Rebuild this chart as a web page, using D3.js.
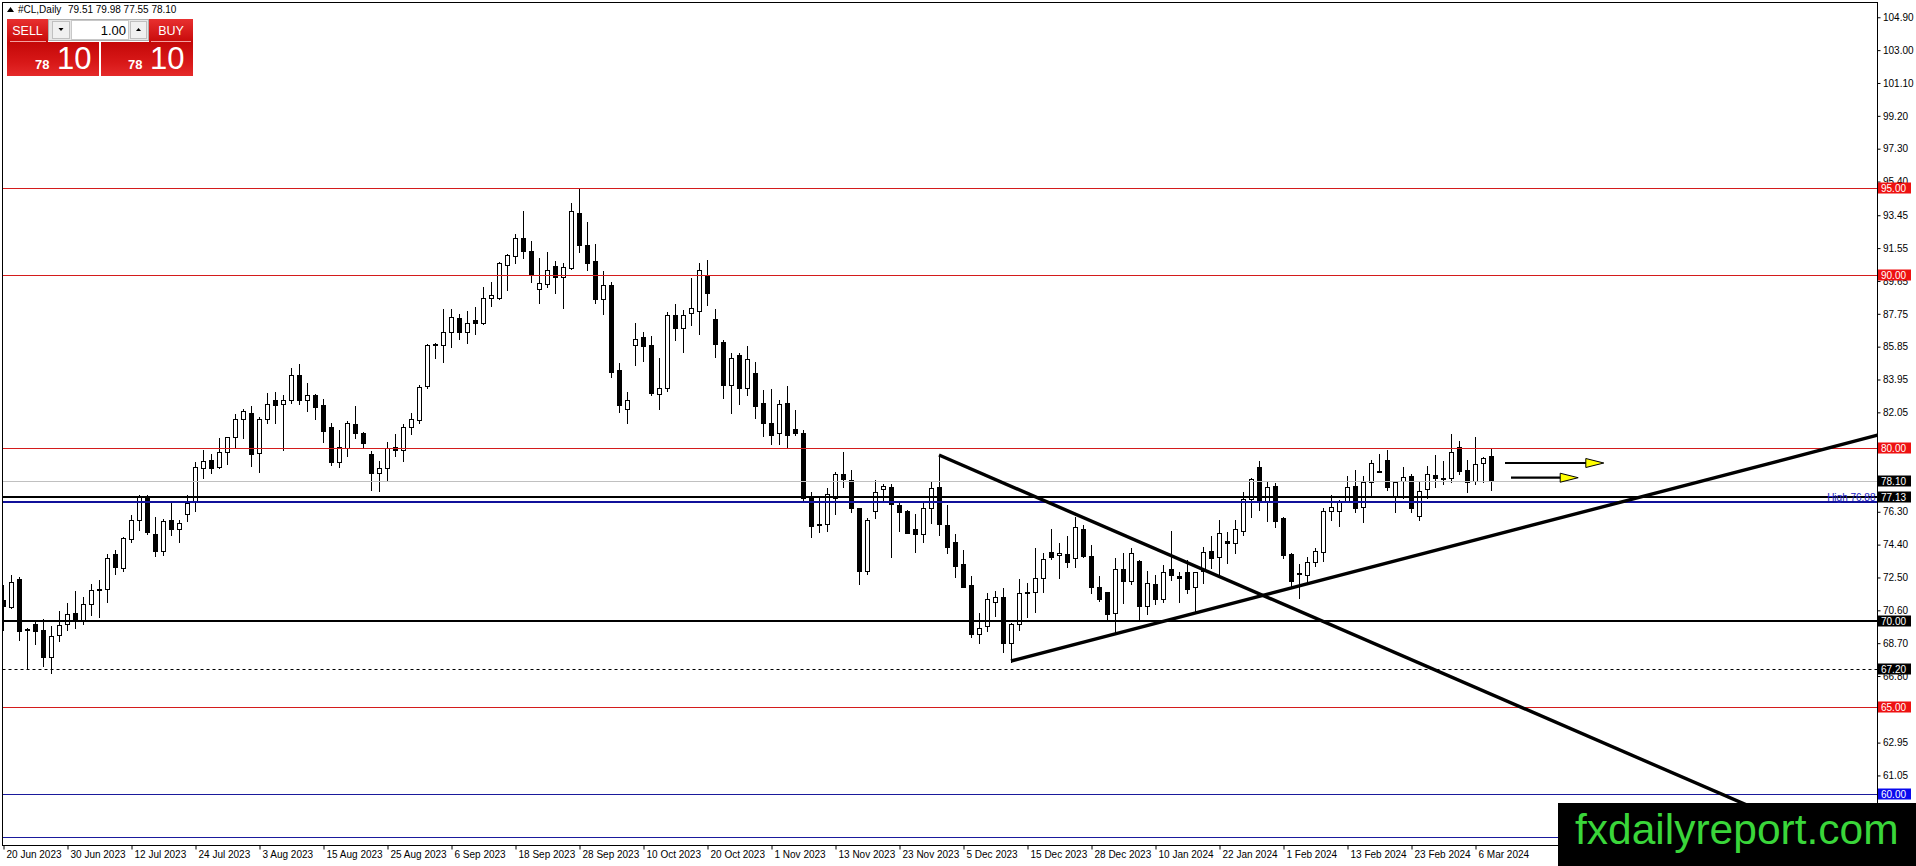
<!DOCTYPE html>
<html><head><meta charset="utf-8">
<script src="https://cdn.jsdelivr.net/npm/d3@7/dist/d3.min.js"></script>
<style>
html,body{margin:0;padding:0;background:#fff;overflow:hidden;}
svg{display:block;font-family:"Liberation Sans",Arial,sans-serif;}
</style></head><body>
<svg id="chart" width="1916" height="866"></svg>
<script>
// ---------------- DATA ----------------
const symbolTitle = "#CL,Daily";
const headerValues = "79.51 79.98 77.55 78.10";

const opens = [71.20,70.81,72.39,69.50,69.79,69.46,67.92,69.19,69.79,70.43,70.04,70.95,71.80,71.81,73.84,73.03,74.72,75.80,77.13,75.01,
74.05,75.80,75.28,76.17,76.92,78.81,79.27,78.87,79.73,80.60,81.68,81.99,79.71,81.68,82.79,82.51,82.79,84.20,82.79,83.05,
82.47,81.20,79.19,80.00,81.35,80.83,79.62,78.52,78.81,80.06,79.90,81.22,81.60,83.59,86.03,85.94,86.67,87.48,86.71,87.38,
87.19,88.69,88.69,90.58,91.12,92.16,91.37,89.21,89.50,90.54,89.85,90.42,93.60,91.72,90.79,88.63,89.40,84.49,82.22,85.94,
86.42,85.94,83.14,83.47,87.67,86.94,87.77,87.92,90.02,87.44,86.13,83.62,85.36,83.47,84.30,82.62,81.41,80.87,82.57,81.08,
80.83,77.07,75.60,75.57,77.11,78.46,78.13,76.50,72.87,76.34,77.59,77.71,76.69,76.34,75.28,74.99,76.50,77.71,75.53,74.53,
73.28,72.06,69.21,69.71,71.10,71.35,68.69,69.79,71.58,71.64,72.45,73.99,73.78,73.84,73.60,75.28,73.74,71.97,71.66,70.46,
72.97,72.31,73.45,70.85,72.12,71.27,72.97,72.58,72.80,71.93,72.89,74.03,73.66,74.60,74.47,75.19,77.03,78.90,76.92,77.79,
75.92,73.84,72.78,72.64,73.41,73.99,76.34,76.36,76.92,77.79,76.55,78.04,78.66,79.29,77.13,78.08,78.36,76.05,77.60,78.42,
78.27,78.23,80.06,78.71,78.10,79.10,79.51];
const highs = [72.06,72.64,72.54,69.56,70.04,70.08,69.69,70.56,71.00,71.72,71.39,72.10,72.35,73.85,74.09,74.86,76.11,77.27,77.27,76.00,
75.90,76.84,75.82,77.27,79.17,79.87,79.67,80.54,80.64,81.95,82.22,82.41,81.80,83.18,83.24,83.05,84.63,84.84,83.76,83.14,
82.85,81.41,81.02,81.56,82.41,80.89,79.83,79.25,80.35,80.77,81.35,81.99,83.62,86.03,86.09,88.02,88.02,87.71,87.90,88.13,
89.31,89.58,90.75,91.20,92.39,93.70,91.95,90.95,91.33,90.81,90.66,94.16,95.05,93.07,91.81,90.23,89.60,84.88,83.24,87.19,
86.71,86.48,85.20,87.83,88.29,87.96,89.83,90.66,90.85,88.02,86.23,85.51,85.51,85.90,84.97,83.34,83.39,82.76,83.57,82.18,
81.02,77.46,77.07,77.65,78.58,79.77,78.71,76.54,75.92,78.13,77.88,77.88,76.78,76.40,76.17,76.94,78.10,79.58,76.69,75.01,
74.09,72.58,70.43,71.58,71.74,71.87,69.85,72.39,72.16,74.22,73.93,75.28,74.47,74.92,76.01,75.53,74.37,72.58,71.68,73.60,
73.93,74.18,73.51,72.87,72.64,73.22,75.20,72.83,73.51,72.83,74.28,74.90,75.82,75.15,75.82,77.46,78.23,79.23,78.00,77.94,
76.01,73.93,73.26,73.70,74.22,76.49,77.27,76.98,78.38,78.71,78.38,79.29,79.67,79.87,78.08,78.90,78.46,78.00,78.94,79.58,
79.23,80.77,80.39,79.29,80.60,79.44,79.98];
const lows = [69.46,70.75,68.88,67.28,68.63,67.40,67.00,68.83,69.46,69.60,69.81,70.31,70.20,71.10,72.68,72.89,74.57,75.24,74.99,73.74,
73.80,74.95,74.53,75.78,76.36,78.23,78.52,78.85,79.04,80.06,80.54,78.96,78.61,81.45,81.45,79.87,82.60,82.52,82.14,81.66,
80.35,79.00,78.90,79.52,80.54,80.06,77.56,77.52,78.10,79.52,79.25,80.79,81.41,83.43,85.20,84.97,85.84,86.28,86.07,86.61,
87.15,88.19,88.60,89.12,90.70,90.98,89.60,88.35,89.31,88.96,88.10,90.37,91.33,90.31,88.38,87.71,84.11,82.08,81.45,84.78,
85.01,83.05,82.24,83.28,86.23,85.55,87.09,86.57,88.25,85.26,82.89,82.04,82.51,83.05,81.74,80.70,80.21,80.21,80.06,80.73,
76.98,74.86,75.15,75.19,76.15,77.75,76.30,72.10,72.68,75.96,76.88,73.70,75.18,75.09,73.99,74.57,75.63,74.95,73.90,72.55,
71.95,69.04,68.73,69.40,70.27,68.21,67.63,69.46,70.23,70.52,71.68,73.55,72.45,73.09,73.09,73.70,71.62,71.16,70.04,69.31,
71.00,72.12,70.04,70.39,70.97,71.10,72.35,71.10,71.58,70.43,72.16,73.07,72.64,73.32,73.89,74.95,76.01,76.40,75.76,75.44,
73.64,71.97,71.33,72.29,73.18,73.45,75.82,75.49,76.84,76.26,75.70,77.17,78.61,77.56,76.26,77.11,76.30,75.82,77.11,77.75,
77.88,78.00,78.46,77.46,77.88,78.00,77.55];
const closes = [70.87,72.25,69.42,69.45,69.42,67.92,69.12,69.73,70.37,69.98,70.95,71.75,71.85,73.60,73.12,74.76,75.80,77.13,75.13,74.05,
75.76,75.32,75.63,76.82,78.87,79.25,78.85,79.73,80.60,81.68,82.12,79.66,81.64,82.56,82.45,82.79,84.20,82.79,83.03,82.37,
80.98,79.19,80.02,81.41,80.83,80.25,78.52,78.81,79.96,79.90,81.22,81.64,83.53,85.97,85.92,86.67,87.54,86.71,87.19,87.23,
88.69,88.81,90.66,91.16,92.16,91.39,90.08,89.56,90.31,89.85,90.46,93.68,91.72,90.70,88.58,89.39,84.40,82.47,82.76,86.32,
85.90,83.18,83.43,87.67,86.94,87.67,88.11,90.27,88.96,86.03,83.62,85.22,83.47,85.11,82.43,81.41,80.73,82.51,80.73,80.83,
77.11,75.49,75.55,77.30,78.46,78.17,76.50,72.87,75.82,77.46,77.79,76.73,76.30,75.10,74.99,76.50,77.65,75.57,74.28,73.18,
71.97,69.21,69.56,71.23,71.35,68.69,69.79,71.58,71.68,72.45,73.55,73.70,73.90,73.41,75.40,73.74,71.97,71.27,70.41,72.97,
72.31,73.89,70.87,72.16,71.23,72.80,72.64,72.45,71.85,72.80,73.95,73.60,75.05,74.50,75.28,77.03,78.19,76.92,77.75,75.76,
73.80,72.31,72.68,73.37,74.03,76.36,76.55,76.88,77.75,76.50,78.00,79.10,78.62,77.75,78.00,78.29,76.50,77.52,78.46,78.23,
78.19,79.73,78.67,78.04,79.04,79.40,78.10];

// time-axis labels (every 8th bar)
const dateLabelIdx = [0,8,16,24,32,40,48,56,64,72,80,88,96,104,112,120,128,136,144,152,160,168,176,184];
const dateLabels = ["20 Jun 2023","30 Jun 2023","12 Jul 2023","24 Jul 2023","3 Aug 2023","15 Aug 2023","25 Aug 2023",
"6 Sep 2023","18 Sep 2023","28 Sep 2023","10 Oct 2023","20 Oct 2023","1 Nov 2023","13 Nov 2023","23 Nov 2023",
"5 Dec 2023","15 Dec 2023","28 Dec 2023","10 Jan 2024","22 Jan 2024","1 Feb 2024","13 Feb 2024","23 Feb 2024","6 Mar 2024"];

// price-axis tick labels (those visible in the reference)
const yTicks = [104.90,103.00,101.10,99.20,97.30,95.40,93.45,91.55,89.65,87.75,85.85,83.95,82.05,
76.30,74.40,72.50,70.60,68.70,66.80,62.95,61.05];

// horizontal levels
const redLevels = [95.00, 90.00, 80.00, 65.00];
const blueLevels = [60.00, 57.50];
const keyLevels = [77.13, 70.00];
const highLevel = 76.88;
const dashedLevel = 67.20;
const bidPrice = 78.10;

// trend lines: [barIndex, price] pairs
const trendUp = [[126.0, 67.67], [236.0, 80.93]];
const trendDown = [[117.0, 79.58], [232.0, 56.53]];

// arrows: start bar, tip bar, price
const arrowStarts = [187.75, 188.5];
const arrowTips = [200.1, 196.9];
const arrowPrices = [79.12, 78.27];

// ---------------- DRAW ----------------
const svg = d3.select("#chart");
const plotL = 2.5, plotT = 2.5, plotR = 1877.5, plotB = 845.5;

const x = d3.scaleLinear().domain([0, 186]).range([3, 1491]);
const y = d3.scaleLinear().domain([60, 95]).range([793.6, 188.45]);
const py = v => Math.round(y(v)) + 0.5;

svg.append("defs").append("clipPath").attr("id","clip")
  .append("rect").attr("x",plotL+0.5).attr("y",plotT+0.5)
  .attr("width",plotR-plotL-1).attr("height",plotB-plotT-1);

const bars = d3.range(opens.length).map(i => ({i, o:opens[i], h:highs[i], l:lows[i], c:closes[i]}));
const plot = svg.append("g").attr("clip-path","url(#clip)");

// candles
const cg = plot.append("g");
cg.selectAll("line.wick").data(bars).join("line").attr("class","wick")
  .attr("x1",d=>x(d.i)+0.5).attr("x2",d=>x(d.i)+0.5)
  .attr("y1",d=>Math.round(y(d.h))).attr("y2",d=>Math.round(y(d.l))+1)
  .attr("stroke","#000").attr("stroke-width",1);
cg.selectAll("rect.body").data(bars).join("rect").attr("class","body")
  .attr("x",d=>x(d.i)-2+0.5).attr("width",4)
  .attr("y",d=>Math.round(y(Math.max(d.o,d.c)))+0.5)
  .attr("height",d=>Math.max(1, Math.round(y(Math.min(d.o,d.c))) - Math.round(y(Math.max(d.o,d.c)))))
  .attr("fill",d=>d.c>=d.o?"#fff":"#000")
  .attr("stroke","#000").attr("stroke-width",1);

// horizontal lines
const hl = plot.append("g");
hl.append("line").attr("x1",plotL).attr("x2",plotR).attr("y1",py(bidPrice)).attr("y2",py(bidPrice))
  .attr("stroke","#c0c0c0").attr("stroke-width",1);
hl.selectAll("line.red").data(redLevels).join("line").attr("class","red")
  .attr("x1",plotL).attr("x2",plotR).attr("y1",d=>py(d)).attr("y2",d=>py(d))
  .attr("stroke","#d41c1c").attr("stroke-width",1);
hl.selectAll("line.blue").data(blueLevels).join("line").attr("class","blue")
  .attr("x1",plotL).attr("x2",plotR).attr("y1",d=>py(d)).attr("y2",d=>py(d))
  .attr("stroke","#1a1a9c").attr("stroke-width",1);
hl.append("line").attr("x1",plotL).attr("x2",plotR).attr("y1",py(dashedLevel)).attr("y2",py(dashedLevel))
  .attr("stroke","#000").attr("stroke-width",1).attr("stroke-dasharray","3,3");
hl.append("line").attr("x1",plotL).attr("x2",plotR).attr("y1",Math.round(y(highLevel))).attr("y2",Math.round(y(highLevel)))
  .attr("stroke","#10109a").attr("stroke-width",2.2);
hl.selectAll("line.key").data(keyLevels).join("line").attr("class","key")
  .attr("x1",plotL).attr("x2",plotR).attr("y1",d=>Math.round(y(d))).attr("y2",d=>Math.round(y(d)))
  .attr("stroke","#000").attr("stroke-width",2.2);

// trend lines
const lineGen = d3.line().x(d=>x(d[0])).y(d=>y(d[1]));
plot.selectAll("path.trend").data([trendUp, trendDown]).join("path").attr("class","trend")
  .attr("d",lineGen).attr("fill","none").attr("stroke","#000").attr("stroke-width",3.4);

// arrows
const arrows = arrowStarts.map((s,k)=>({s, t:arrowTips[k], p:arrowPrices[k]}));
const ag = plot.append("g");
ag.selectAll("line").data(arrows).join("line")
  .attr("x1",d=>x(d.s)).attr("x2",d=>x(d.t)-16).attr("y1",d=>y(d.p)).attr("y2",d=>y(d.p))
  .attr("stroke","#000").attr("stroke-width",2.2);
ag.selectAll("path").data(arrows).join("path")
  .attr("d",d=>{const tx=x(d.t), yy=y(d.p); return `M${tx},${yy} L${tx-18},${yy-4.5} L${tx-18},${yy+4.5} Z`;})
  .attr("fill","#ffff00").attr("stroke","#000").attr("stroke-width",1);

// "High 76.88" text
svg.append("text").attr("x",plotR-2).attr("y",Math.round(y(highLevel))-1)
  .attr("text-anchor","end").attr("font-size",10).attr("fill","#2020c0")
  .text("High    " + highLevel.toFixed(2));

// frame
svg.append("rect").attr("x",plotL).attr("y",plotT).attr("width",plotR-plotL).attr("height",plotB-plotT)
  .attr("fill","none").attr("stroke","#000").attr("stroke-width",1);

// y axis
const yAxis = d3.axisRight(y).tickValues(yTicks).tickSize(3).tickFormat(d=>d.toFixed(2));
svg.append("g").attr("transform",`translate(${plotR},0)`).call(yAxis)
  .call(g=>g.select(".domain").remove())
  .call(g=>g.selectAll("text").attr("font-size",10).attr("fill","#000").attr("x",5.5)
        .attr("font-family","'Liberation Sans',Arial,sans-serif"))
  .call(g=>g.selectAll("line").attr("stroke","#000"));

// x axis
const xAxis = d3.axisBottom(x).tickValues(dateLabelIdx).tickSize(4)
  .tickFormat((d,k)=>dateLabels[k]);
svg.append("g").attr("transform",`translate(0,${plotB})`).call(xAxis)
  .call(g=>g.select(".domain").remove())
  .call(g=>g.selectAll(".tick line").attr("stroke","#000").attr("transform","translate(0.5,0)"))
  .call(g=>g.selectAll("text").attr("font-size",10).attr("fill","#000").attr("text-anchor","start")
        .attr("x",3).attr("y",5).attr("font-family","'Liberation Sans',Arial,sans-serif"));

// price label boxes on the axis
const boxes = [
  ...redLevels.map(v=>({v, bg:"#ee1111"})),
  {v:bidPrice, bg:"#000"},
  ...keyLevels.map(v=>({v, bg:"#000"})),
  {v:dashedLevel, bg:"#000"},
  {v:blueLevels[0], bg:"#0a0aee"}
];
const bg = svg.append("g");
bg.selectAll("rect").data(boxes).join("rect")
  .attr("x",plotR+0.5).attr("y",d=>Math.round(y(d.v))-5.5).attr("width",33).attr("height",11)
  .attr("fill",d=>d.bg);
bg.selectAll("text").data(boxes).join("text")
  .attr("x",plotR+3.5).attr("y",d=>Math.round(y(d.v))+4)
  .attr("font-size",10).attr("fill","#fff").text(d=>d.v.toFixed(2));

// watermark
svg.append("rect").attr("x",1558).attr("y",803).attr("width",358).attr("height",63).attr("fill","#000");
svg.append("text").attr("x",1575).attr("y",843.5).attr("font-size",42.5).attr("fill","#3ad63a")
  .attr("font-family","'Liberation Sans',Arial,sans-serif").text("fxdailyreport.com");

// header
svg.append("path").attr("d","M7,12 L10.5,7 L14,12 Z").attr("fill","#000");
svg.append("text").attr("x",18).attr("y",13).attr("font-size",10).attr("fill","#000").text(symbolTitle);
svg.append("text").attr("x",68).attr("y",13).attr("font-size",10).attr("fill","#000").text(headerValues);

// one-click trading panel
const defs = svg.select("defs");
const grad = defs.append("linearGradient").attr("id","redg").attr("x1",0).attr("y1",0).attr("x2",0).attr("y2",1);
grad.append("stop").attr("offset","0%").attr("stop-color","#e83030");
grad.append("stop").attr("offset","100%").attr("stop-color","#c80a0a");
const grad2 = defs.append("linearGradient").attr("id","redg2").attr("x1",0).attr("y1",0).attr("x2",0).attr("y2",1);
grad2.append("stop").attr("offset","0%").attr("stop-color","#c40808");
grad2.append("stop").attr("offset","60%").attr("stop-color","#d81818");
grad2.append("stop").attr("offset","100%").attr("stop-color","#e52a2a");
const pn = svg.append("g");
pn.append("rect").attr("x",7).attr("y",19).attr("width",41).attr("height",23).attr("fill","url(#redg)");
pn.append("rect").attr("x",149).attr("y",19).attr("width",44).attr("height",23).attr("fill","url(#redg)");
pn.append("rect").attr("x",7).attr("y",42).attr("width",92).attr("height",34).attr("fill","url(#redg2)");
pn.append("rect").attr("x",101).attr("y",42).attr("width",92).attr("height",34).attr("fill","url(#redg2)");
pn.append("line").attr("x1",10).attr("x2",46).attr("y1",41.5).attr("y2",41.5).attr("stroke","#f4a0a0");
pn.append("line").attr("x1",151).attr("x2",191).attr("y1",41.5).attr("y2",41.5).attr("stroke","#f4a0a0");
pn.append("rect").attr("x",48.5).attr("y",19.5).attr("width",100).attr("height",21).attr("fill","#e6e6e6").attr("stroke","#b0b0b0");
pn.append("rect").attr("x",71.5).attr("y",20.5).attr("width",57).attr("height",19).attr("fill","#fff").attr("stroke","#c8c8c8");
pn.append("rect").attr("x",52.5).attr("y",21.5).attr("width",17).attr("height",17).attr("fill","#f0f0f0").attr("stroke","#c0c0c0");
pn.append("rect").attr("x",130.5).attr("y",21.5).attr("width",16).attr("height",17).attr("fill","#f0f0f0").attr("stroke","#c0c0c0");
pn.append("path").attr("d","M58.5,28 L63.5,28 L61,31 Z").attr("fill","#000");
pn.append("path").attr("d","M136,31 L141,31 L138.5,28 Z").attr("fill","#000");
pn.append("text").attr("x",126).attr("y",35).attr("text-anchor","end").attr("font-size",13).attr("fill","#000").text("1.00");
pn.append("text").attr("x",27.5).attr("y",35).attr("text-anchor","middle").attr("font-size",12.5).attr("fill","#fff").text("SELL");
pn.append("text").attr("x",171).attr("y",35).attr("text-anchor","middle").attr("font-size",12.5).attr("fill","#fff").text("BUY");
const bigPrice = closes[closes.length-1].toFixed(2).split(".");
[[35,57],[128,150]].forEach(([sx,bx])=>{
  pn.append("text").attr("x",sx).attr("y",69).attr("font-size",13).attr("font-weight","bold").attr("fill","#fff").text(bigPrice[0]);
  pn.append("text").attr("x",bx).attr("y",69).attr("font-size",31).attr("fill","#fff").text(bigPrice[1]);
});
</script>
</body></html>
